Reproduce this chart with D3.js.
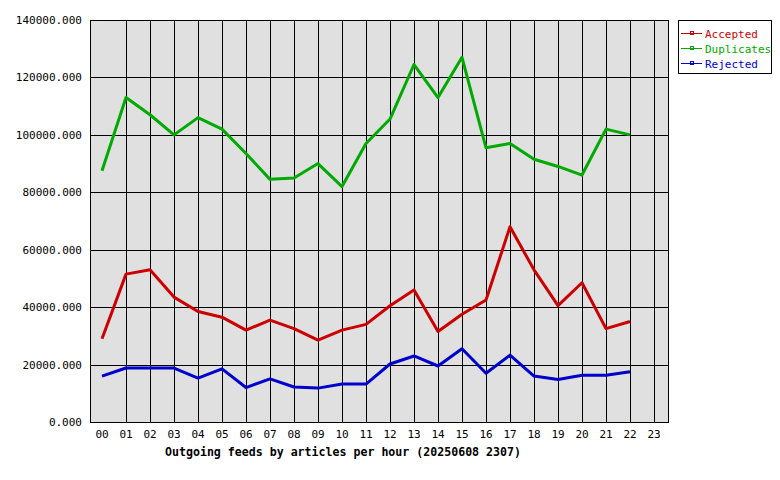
<!DOCTYPE html><html><head><script src="https://cdn.jsdelivr.net/npm/d3@7"></script>
<style>body{margin:0;background:#fff}text{font-family:"DejaVu Sans Mono",monospace;font-size:11px}</style></head><body><svg id="c" width="780" height="480"></svg><script>
const hours=d3.range(24).map(h=>String(h).padStart(2,"0"));
const accepted=[29000,51500,53000,43500,38500,36500,32000,35500,32500,28500,32000,34000,40500,46000,31500,37500,42500,68000,53000,40500,48500,32500,35000];
const duplicates=[87500,113000,107000,100000,106000,102000,93500,84500,85000,90000,82000,97000,105500,124500,113000,127000,95500,97000,91500,89000,86000,102000,100000];
const rejected=[16000,18800,18800,18800,15300,18500,12000,15000,12200,11800,13200,13200,20200,23000,19500,25500,17000,23300,16000,14800,16300,16300,17500];
const yTicks=[0,20000,40000,60000,80000,100000,120000,140000];
const series=[{name:"Accepted",color:"#cc0000",values:accepted},{name:"Duplicates",color:"#00aa00",values:duplicates},{name:"Rejected",color:"#0000cc",values:rejected}];
const svg=d3.select("#c");
const L=90,R=668,T=20,B=422;
const x=d3.scalePoint().domain(hours).range([102,654]);
const y=d3.scaleLinear().domain([0,140000]).range([B,T]);
const px=v=>Math.round(v)+0.5;
svg.append("rect").attr("x",L+.5).attr("y",T+.5).attr("width",R-L).attr("height",B-T).attr("fill","#e0e0e0").attr("stroke","#000").attr("shape-rendering","crispEdges");
svg.selectAll(".gx").data(hours.slice(1)).join("line").attr("x1",d=>px(x(d))).attr("x2",d=>px(x(d))).attr("y1",T).attr("y2",B).attr("stroke","#000").attr("shape-rendering","crispEdges");
svg.selectAll(".gy").data(yTicks).join("line").attr("x1",L).attr("x2",R).attr("y1",d=>px(y(d))).attr("y2",d=>px(y(d))).attr("stroke","#000").attr("shape-rendering","crispEdges");
svg.selectAll(".yl").data(yTicks).join("text").attr("x",L-8).attr("y",d=>y(d)+4).attr("text-anchor","end").text(d=>d+".000");
svg.selectAll(".xl").data(hours).join("text").attr("x",d=>x(d)).attr("y",B+16).attr("text-anchor","middle").text(d=>d);
svg.append("text").attr("x",343).attr("y",456).attr("text-anchor","middle").attr("font-weight","bold").style("font-size","11.6px").text("Outgoing feeds by articles per hour (20250608 2307)");
const line=d3.line().x((d,i)=>x(hours[i])).y(d=>y(d));
series.forEach(s=>svg.append("path").attr("d",line(s.values)).attr("fill","none").attr("stroke",s.color).attr("stroke-width",3).attr("stroke-linejoin","round"));
svg.append("rect").attr("x",678.5).attr("y",20.5).attr("width",93).attr("height",53).attr("fill","#fff").attr("stroke","#000").attr("shape-rendering","crispEdges");
series.forEach((s,i)=>{const yy=33.5+i*15;
svg.append("line").attr("x1",681).attr("x2",702).attr("y1",yy).attr("y2",yy).attr("stroke",s.color).attr("shape-rendering","crispEdges");
svg.append("rect").attr("x",690.5).attr("y",yy-2).attr("width",3).attr("height",3).attr("fill","none").attr("stroke",s.color).attr("stroke-width",1).attr("shape-rendering","crispEdges");
svg.append("text").attr("x",705).attr("y",yy+4).attr("fill",s.color).text(s.name);});
</script></body></html>
